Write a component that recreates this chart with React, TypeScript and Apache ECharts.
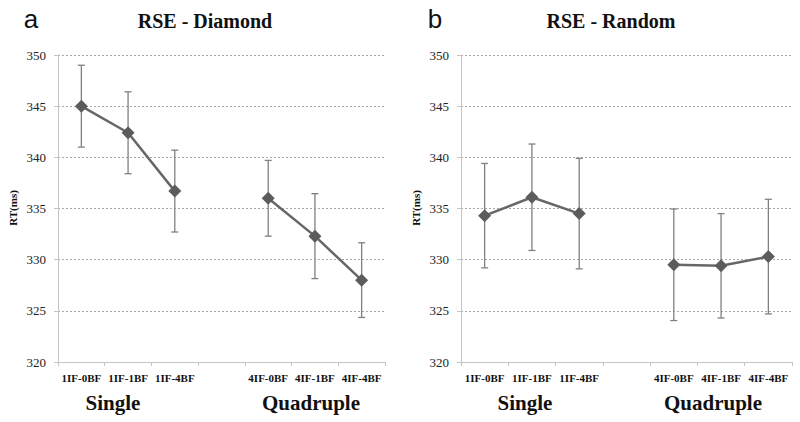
import React, { useEffect, useRef } from "react";
import * as echarts from "echarts";

const categories = ["1IF-0BF", "1IF-1BF", "1IF-4BF", "", "4IF-0BF", "4IF-1BF", "4IF-4BF"];
const diamondMean = [345.0, 342.4, 336.7, null, 336.0, 332.3, 328.0];
const diamondErr = [4.0, 4.0, 4.0, null, 3.7, 4.15, 3.65];
const randomMean = [334.3, 336.1, 334.5, null, 329.5, 329.4, 330.3];
const randomErr = [5.1, 5.2, 5.4, null, 5.45, 5.1, 5.6];
const yTicks = { min: 320, max: 350, step: 5 };
const panelTitles = ["RSE - Diamond", "RSE - Random"];
const panelLetters = ["a", "b"];
const groupNames = ["Single", "Quadruple"];
const yAxisName = "RT(ms)";

const SERIF = "Liberation Serif";
const SANS = "Liberation Sans";

export default function App() {
  const ref = useRef<HTMLDivElement>(null);
  useEffect(() => {
    if (!ref.current) return;
    const chart = echarts.init(ref.current, undefined, { renderer: "svg" });
    const grids = [
      { left: 58, top: 55, width: 327, height: 307 },
      { left: 461, top: 55, width: 331, height: 307 },
    ];
    const means = [diamondMean, randomMean];
    const errs = [diamondErr, randomErr];

    const xAxes = grids.map((_, i) => ({
      type: "category",
      gridIndex: i,
      data: categories,
      boundaryGap: true,
      axisLine: { show: true, lineStyle: { color: "#c4c4c4", width: 1 } },
      axisTick: { show: true, length: 4, interval: 0, lineStyle: { color: "#c4c4c4" } },
      axisLabel: {
        interval: 0,
        margin: 10,
        fontFamily: SERIF,
        fontWeight: "bold",
        fontSize: 11,
        color: "#111",
      },
      splitLine: { show: false },
    }));
    const yAxes = grids.map((_, i) => ({
      type: "value",
      gridIndex: i,
      min: yTicks.min,
      max: yTicks.max,
      interval: yTicks.step,
      axisLine: { show: true, lineStyle: { color: "#c4c4c4", width: 1 } },
      axisTick: { show: true, length: 4, lineStyle: { color: "#c4c4c4" } },
      axisLabel: { margin: 12, fontFamily: SERIF, fontSize: 13, color: "#222" },
      splitLine: { show: true, lineStyle: { color: "#a8a8a8", type: [2, 2], width: 1 } },
    }));

    const series: any[] = [];
    [0, 1].forEach((i) => {
      const errData = means[i]
        .map((m, k) => (m == null ? null : [k, m - (errs[i][k] as number), m + (errs[i][k] as number)]))
        .filter((d) => d != null);
      series.push({
        type: "custom",
        xAxisIndex: i,
        yAxisIndex: i,
        z: 1,
        data: errData,
        renderItem: (params: any, api: any) => {
          const x = api.value(0);
          const lo = api.coord([x, api.value(1)]);
          const hi = api.coord([x, api.value(2)]);
          const cw = 3.5;
          const style = { stroke: "#808080", lineWidth: 1.3 };
          return {
            type: "group",
            children: [
              { type: "line", shape: { x1: lo[0], y1: lo[1], x2: hi[0], y2: hi[1] }, style },
              { type: "line", shape: { x1: lo[0] - cw, y1: lo[1], x2: lo[0] + cw, y2: lo[1] }, style },
              { type: "line", shape: { x1: hi[0] - cw, y1: hi[1], x2: hi[0] + cw, y2: hi[1] }, style },
            ],
          };
        },
      });
      series.push({
        type: "line",
        xAxisIndex: i,
        yAxisIndex: i,
        z: 3,
        data: means[i],
        connectNulls: false,
        symbol: "diamond",
        symbolSize: 13,
        lineStyle: { color: "#676767", width: 2.5 },
        itemStyle: { color: "#5c5c5c" },
      });
    });

    const graphics: any[] = [];
    const titleX = [205, 611];
    const letterX = [31, 435];
    const groupX = [
      [113, 311],
      [525, 713],
    ];
    const axisNameX = [13, 416];
    [0, 1].forEach((i) => {
      graphics.push({
        type: "text",
        x: letterX[i],
        y: 19,
        style: { text: panelLetters[i], fontFamily: SANS, fontSize: 26, fill: "#111", align: "center", verticalAlign: "middle" },
      });
      graphics.push({
        type: "text",
        x: titleX[i],
        y: 21,
        style: { text: panelTitles[i], fontFamily: SERIF, fontWeight: "bold", fontSize: 20, fill: "#111", align: "center", verticalAlign: "middle" },
      });
      groupNames.forEach((g, j) => {
        graphics.push({
          type: "text",
          x: groupX[i][j],
          y: 403,
          style: { text: g, fontFamily: SERIF, fontWeight: "bold", fontSize: 21, fill: "#111", align: "center", verticalAlign: "middle" },
        });
      });
      graphics.push({
        type: "text",
        x: axisNameX[i],
        y: 208,
        rotation: Math.PI / 2,
        style: { text: yAxisName, fontFamily: SERIF, fontWeight: "bold", fontSize: 11, fill: "#111", align: "center", verticalAlign: "middle" },
      });
    });

    chart.setOption({
      animation: false,
      backgroundColor: "#fff",
      grid: grids,
      xAxis: xAxes,
      yAxis: yAxes,
      series,
      graphic: graphics,
    });
    return () => chart.dispose();
  }, []);
  return <div ref={ref} style={{ position: "absolute", left: 0, top: 0, width: 800, height: 422 }} />;
}
